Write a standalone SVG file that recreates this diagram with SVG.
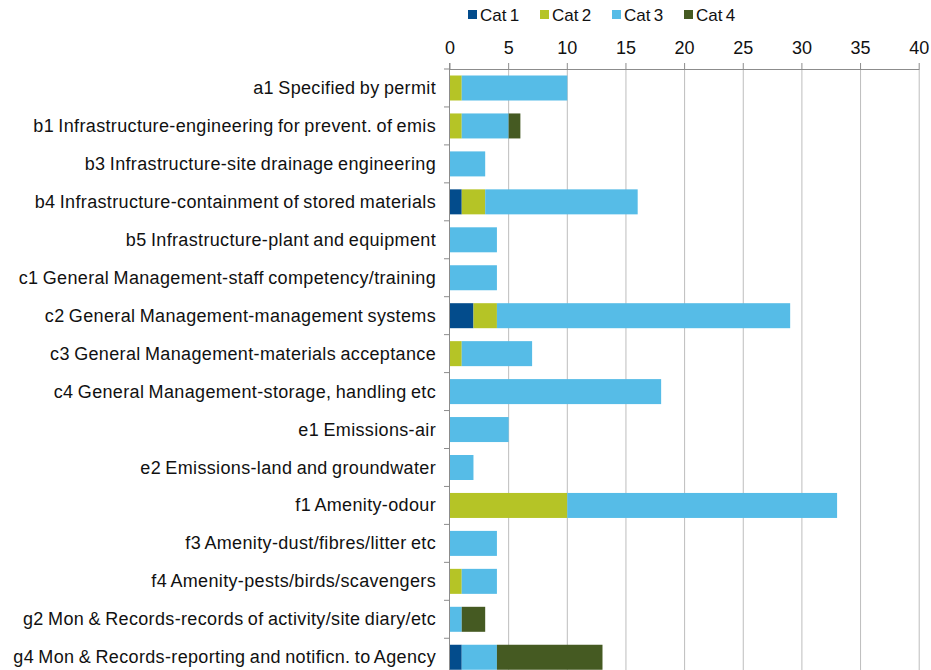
<svg xmlns="http://www.w3.org/2000/svg" width="931" height="670" viewBox="0 0 931 670">
<style>
text{font-family:"Liberation Sans",Arial,sans-serif;font-size:18px;fill:#111;}
.lbl{text-anchor:end;letter-spacing:0.35px;word-spacing:-1px;}
.tk{text-anchor:middle;}
.lg{font-size:17px;word-spacing:-1.5px;}
.grid{stroke:#bdbdbd;stroke-width:1;fill:none;}
.axis{stroke:#8c8c8c;stroke-width:1;fill:none;}
.c1{fill:#034c8c;}
.c2{fill:#b5c426;}
.c3{fill:#56bce7;}
.c4{fill:#455a22;}
</style>
<rect width="931" height="670" fill="#fff"/>
<g id="legend">
<rect class="c1" x="468" y="10" width="9" height="9"/><text class="lg" x="480" y="21">Cat 1</text>
<rect class="c2" x="540" y="10" width="9" height="9"/><text class="lg" x="552" y="21">Cat 2</text>
<rect class="c3" x="612" y="10" width="9" height="9"/><text class="lg" x="624" y="21">Cat 3</text>
<rect class="c4" x="684" y="10" width="9" height="9"/><text class="lg" x="696" y="21">Cat 4</text>
</g>
<g id="gridlines">
<path class="grid" d="M508.65 69V670M567.3 69V670M625.95 69V670M684.6 69V670M743.25 69V670M801.9 69V670M860.55 69V670M919.2 69V670"/>
</g>
<g id="x-axis">
<path class="axis" d="M450 69.5H919.2M450 63V69.5M508.65 63V69.5M567.3 63V69.5M625.95 63V69.5M684.6 63V69.5M743.25 63V69.5M801.9 63V69.5M860.55 63V69.5M919.2 63V69.5"/>
<text class="tk" x="450" y="54">0</text>
<text class="tk" x="508.65" y="54">5</text>
<text class="tk" x="567.3" y="54">10</text>
<text class="tk" x="625.95" y="54">15</text>
<text class="tk" x="684.6" y="54">20</text>
<text class="tk" x="743.25" y="54">25</text>
<text class="tk" x="801.9" y="54">30</text>
<text class="tk" x="860.55" y="54">35</text>
<text class="tk" x="919.2" y="54">40</text>
</g>
<g id="row-a1"><text class="lbl" x="436" y="94">a1 Specified by permit</text>
<rect class="c2" x="450" y="75.5" width="11.73" height="25"/><rect class="c3" x="461.73" y="75.5" width="105.57" height="25"/></g>
<g id="row-b1"><text class="lbl" x="436" y="131.95">b1 Infrastructure-engineering for prevent. of emis</text>
<rect class="c2" x="450" y="113.45" width="11.73" height="25"/><rect class="c3" x="461.73" y="113.45" width="46.92" height="25"/><rect class="c4" x="508.65" y="113.45" width="11.73" height="25"/></g>
<g id="row-b3"><text class="lbl" x="436" y="169.9">b3 Infrastructure-site drainage engineering</text>
<rect class="c3" x="450" y="151.4" width="35.19" height="25"/></g>
<g id="row-b4"><text class="lbl" x="436" y="207.85">b4 Infrastructure-containment of stored materials</text>
<rect class="c1" x="450" y="189.35" width="11.73" height="25"/><rect class="c2" x="461.73" y="189.35" width="23.46" height="25"/><rect class="c3" x="485.19" y="189.35" width="152.49" height="25"/></g>
<g id="row-b5"><text class="lbl" x="436" y="245.8">b5 Infrastructure-plant and equipment</text>
<rect class="c3" x="450" y="227.3" width="46.92" height="25"/></g>
<g id="row-c1"><text class="lbl" x="436" y="283.75">c1 General Management-staff competency/training</text>
<rect class="c3" x="450" y="265.25" width="46.92" height="25"/></g>
<g id="row-c2"><text class="lbl" x="436" y="321.7">c2 General Management-management systems</text>
<rect class="c1" x="450" y="303.2" width="23.46" height="25"/><rect class="c2" x="473.46" y="303.2" width="23.46" height="25"/><rect class="c3" x="496.92" y="303.2" width="293.25" height="25"/></g>
<g id="row-c3"><text class="lbl" x="436" y="359.65">c3 General Management-materials acceptance</text>
<rect class="c2" x="450" y="341.15" width="11.73" height="25"/><rect class="c3" x="461.73" y="341.15" width="70.38" height="25"/></g>
<g id="row-c4"><text class="lbl" x="436" y="397.6">c4 General Management-storage, handling etc</text>
<rect class="c3" x="450" y="379.1" width="211.14" height="25"/></g>
<g id="row-e1"><text class="lbl" x="436" y="435.55">e1 Emissions-air</text>
<rect class="c3" x="450" y="417.05" width="58.65" height="25"/></g>
<g id="row-e2"><text class="lbl" x="436" y="473.5">e2 Emissions-land and groundwater</text>
<rect class="c3" x="450" y="455" width="23.46" height="25"/></g>
<g id="row-f1"><text class="lbl" x="436" y="511.45">f1 Amenity-odour</text>
<rect class="c2" x="450" y="492.95" width="117.3" height="25"/><rect class="c3" x="567.3" y="492.95" width="269.79" height="25"/></g>
<g id="row-f3"><text class="lbl" x="436" y="549.4">f3 Amenity-dust/fibres/litter etc</text>
<rect class="c3" x="450" y="530.9" width="46.92" height="25"/></g>
<g id="row-f4"><text class="lbl" x="436" y="587.35">f4 Amenity-pests/birds/scavengers</text>
<rect class="c2" x="450" y="568.85" width="11.73" height="25"/><rect class="c3" x="461.73" y="568.85" width="35.19" height="25"/></g>
<g id="row-g2"><text class="lbl" x="436" y="625.3">g2 Mon &amp; Records-records of activity/site diary/etc</text>
<rect class="c3" x="450" y="606.8" width="11.73" height="25"/><rect class="c4" x="461.73" y="606.8" width="23.46" height="25"/></g>
<g id="row-g4"><text class="lbl" x="436" y="663.25">g4 Mon &amp; Records-reporting and notificn. to Agency</text>
<rect class="c1" x="450" y="644.75" width="11.73" height="25"/><rect class="c3" x="461.73" y="644.75" width="35.19" height="25"/><rect class="c4" x="496.92" y="644.75" width="105.57" height="25"/></g>
<g id="y-axis">
<path class="axis" d="M449.5 63V670M444 69H450M444 106.95H450M444 144.9H450M444 182.85H450M444 220.8H450M444 258.75H450M444 296.7H450M444 334.65H450M444 372.6H450M444 410.55H450M444 448.5H450M444 486.45H450M444 524.4H450M444 562.35H450M444 600.3H450M444 638.25H450"/>
</g>
</svg>
